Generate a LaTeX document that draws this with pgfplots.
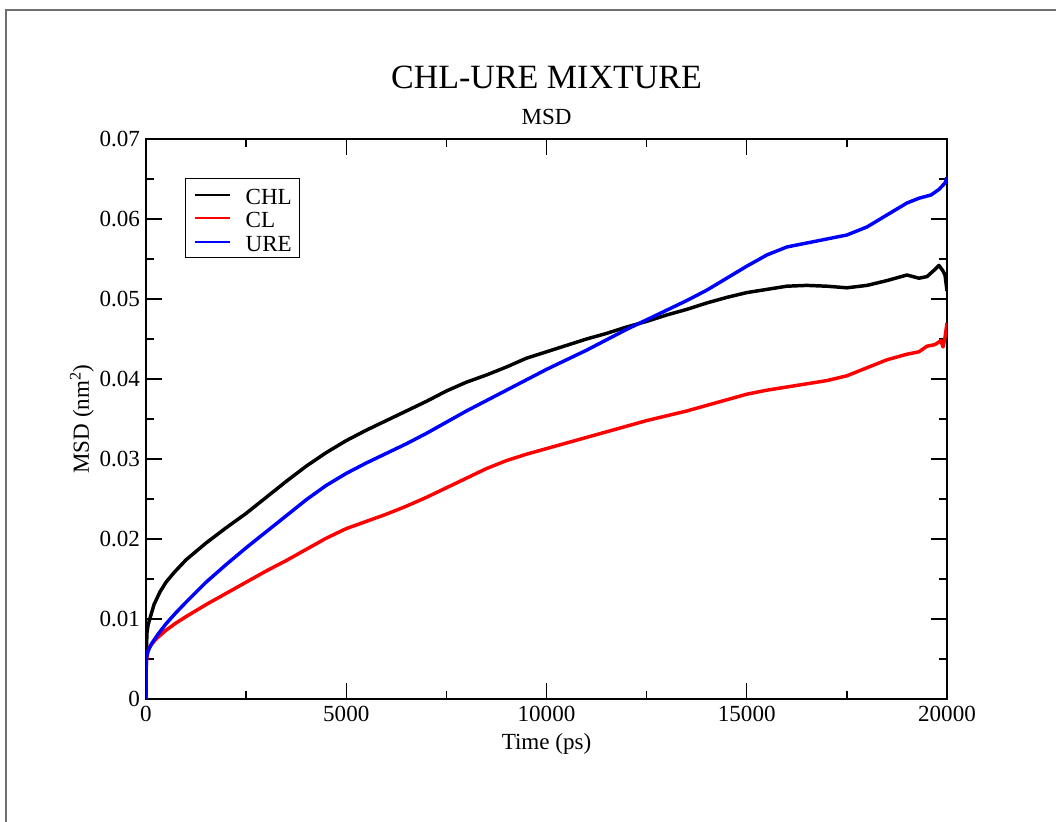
\documentclass[border=0pt]{standalone}
\usepackage{fontspec}
\setmainfont{Liberation Serif}
\usepackage{pgfplots}
\pgfplotsset{compat=1.18}
\definecolor{framegray}{RGB}{110,110,110}
\newcommand{\fs}{\fontsize{17.3}{20.8}\selectfont}

\begin{document}
\begin{tikzpicture}
\path[use as bounding box] (0,0) rectangle (792pt,615.75pt);
\draw[framegray, line width=1.5pt] (4.5pt,-2pt) -- (4.5pt,608.25pt) -- (794pt,608.25pt);
\begin{axis}[
  name=ax,
  at={(109.5pt,91.5pt)}, anchor=south west,
  width=600.75pt, height=420pt, scale only axis,
  xmin=0, xmax=20000, ymin=0, ymax=0.07,
  xtick={0,5000,10000,15000,20000},
  ytick={0,0.01,0.02,0.03,0.04,0.05,0.06,0.07},
  minor x tick num=1, minor y tick num=1,
  tick align=inside,
  major tick length=12pt, minor tick length=6pt,
  every tick/.style={black, line width=1pt},
  axis line style={line width=1.2pt, black},
  scaled ticks=false,
  /pgf/number format/assume math mode=true,
  ticklabel style={font=\fs},
  yticklabel style={/pgf/number format/fixed, /pgf/number format/precision=2, xshift=-1pt},
  xticklabel style={/pgf/number format/1000 sep={}, yshift=-2pt},
  xlabel={Time (ps)},
  ylabel={MSD (nm\textsuperscript{2})},
  label style={font=\fs},
  xlabel style={at={(axis description cs:0.5,0)}, anchor=base, yshift=-37.5pt},
  ylabel style={at={(axis description cs:-0.0712,0.5)}, anchor=base},
  legend cell align=left,
  legend image code/.code={\draw[#1, line width=1.6pt] (0pt,0pt) -- (26.25pt,0pt);},
  legend style={at={(0.0487,0.930)}, anchor=north west, font=\fs,
    draw=black, line width=0.8pt, inner xsep=6pt, inner ysep=3.2pt,
    column sep=11.25pt, row sep=0pt,
    nodes={inner sep=0pt, text height=16.1pt, text depth=1.5pt}},
  every axis plot/.append style={line width=2.6pt, line join=round},
]
\addplot[black] coordinates {
(0,0) (3,0.004) (10,0.0062) (25,0.0083) (50,0.0092) (100,0.0101) (200,0.0118)
(350,0.0134) (500,0.0146) (700,0.0158) (1000,0.0174) (1500,0.0195) (2000,0.0214)
(2500,0.0232) (3000,0.0252) (3500,0.0272) (4000,0.0291) (4500,0.0308) (5000,0.0323)
(5500,0.0336) (6000,0.0348) (6500,0.0360) (7000,0.0372) (7500,0.0385) (8000,0.0396)
(8500,0.0405) (9000,0.0415) (9500,0.0426) (10000,0.0434) (10500,0.0442) (11000,0.0450)
(11500,0.0457) (12000,0.0465) (12500,0.0472) (13000,0.0480) (13500,0.0487)
(14000,0.0495) (14500,0.0502) (15000,0.0508) (15500,0.0512) (16000,0.0516)
(16500,0.0517) (17000,0.0516) (17500,0.0514) (18000,0.0517) (18500,0.0523)
(19000,0.0530) (19300,0.0526) (19500,0.0528) (19700,0.0537) (19800,0.0542)
(19900,0.0535) (19950,0.0530) (20000,0.0510)
};
\addlegendentry{CHL}
\addplot[red] coordinates {
(0,0) (2,0.003) (10,0.0048) (50,0.0060) (100,0.0066) (250,0.0075) (500,0.0086)
(750,0.0095) (1000,0.0103) (1500,0.0118) (2000,0.0132) (2500,0.0146) (3000,0.0160)
(3500,0.0173) (4000,0.0187) (4500,0.0201) (5000,0.0213) (5500,0.0222) (6000,0.0231)
(6500,0.0241) (7000,0.0252) (7500,0.0264) (8000,0.0276) (8500,0.0288) (9000,0.0298)
(9500,0.0306) (10000,0.0313) (10500,0.0320) (11000,0.0327) (11500,0.0334)
(12000,0.0341) (12500,0.0348) (13000,0.0354) (13500,0.0360) (14000,0.0367)
(14500,0.0374) (15000,0.0381) (15500,0.0386) (16000,0.0390) (16500,0.0394)
(17000,0.0398) (17500,0.0404) (18000,0.0414) (18500,0.0424) (19000,0.0431)
(19300,0.0434) (19500,0.0441) (19700,0.0443) (19850,0.0448) (19900,0.0440)
(19950,0.0452) (20000,0.0470)
};
\addlegendentry{CL}
\addplot[blue] coordinates {
(0,0) (2,0.003) (10,0.0052) (50,0.0060) (150,0.0070) (300,0.0081) (500,0.0094)
(750,0.0108) (1000,0.0121) (1500,0.0146) (2000,0.0168) (2500,0.0189) (3000,0.0209)
(3500,0.0229) (4000,0.0249) (4500,0.0267) (5000,0.0282) (5500,0.0295) (6000,0.0307)
(6500,0.0319) (7000,0.0332) (7500,0.0346) (8000,0.0360) (8500,0.0373) (9000,0.0386)
(9500,0.0399) (10000,0.0412) (10500,0.0424) (11000,0.0436) (11500,0.0449)
(12000,0.0462) (12500,0.0474) (13000,0.0486) (13500,0.0498) (14000,0.0511)
(14500,0.0526) (15000,0.0541) (15500,0.0555) (16000,0.0565) (16500,0.0570)
(17000,0.0575) (17500,0.0580) (18000,0.0590) (18500,0.0605) (19000,0.0620)
(19300,0.0626) (19600,0.0630) (19800,0.0637) (19950,0.0645) (20000,0.0652)
};
\addlegendentry{URE}
\end{axis}
\node[anchor=base, font=\fontsize{25.5}{30}\selectfont] at ([yshift=37.5pt]ax.north) {CHL-URE MIXTURE};
\node[anchor=base, font=\fs] at ([yshift=11.25pt]ax.north) {MSD};
\end{tikzpicture}
\end{document}
